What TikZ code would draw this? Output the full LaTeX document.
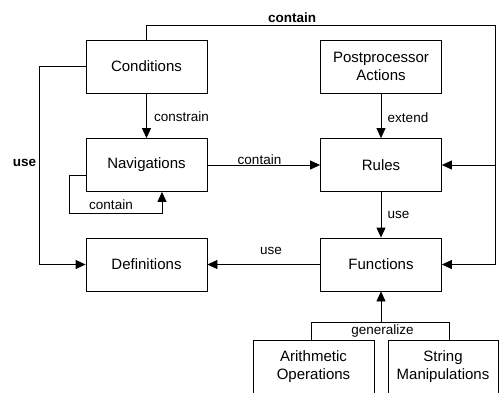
\documentclass[tikz,border=0pt]{standalone}
\usepackage{fontspec}
\setmainfont{Liberation Sans}
\usetikzlibrary{arrows.meta}
\begin{document}
\begin{tikzpicture}[x=1pt, y=-1pt, line width=0.8pt,
  box/.style={draw, minimum width=121pt, minimum height=53pt, align=center,
    inner sep=0pt, font=\fontsize{15}{18}\selectfont},
  lbl/.style={inner sep=1pt, font=\fontsize{13.5}{16}\selectfont},
  blbl/.style={inner sep=1pt, font=\fontsize{13.5}{16}\selectfont\bfseries},
  arr/.style={-{Triangle[length=10pt,width=9pt]}}]

  \useasboundingbox (0,0) rectangle (500,392);

  % boxes
  \node[box] (cond) at (146.5,66.5) {Conditions};
  \node[box] (post) at (381,66.5) {Postprocessor\\Actions};
  \node[box] (nav) at (146.5,165) {Navigations};
  \node[box] (rules) at (381,165) {Rules};
  \node[box] (defs) at (146.5,264.5) {Definitions};
  \node[box] (funcs) at (381,264.5) {Functions};
  \node[box, minimum height=54pt] (arith) at (313.5,367) {Arithmetic\\Operations};
  \node[box, minimum width=110pt, minimum height=54pt] (strman) at (443,367) {String\\Manipulations};

  % contain (top, to the right side)
  \coordinate (ctop) at (495,25);
  \draw[arr] (cond.north) |- (ctop) |- (funcs.east);
  \draw[arr] (ctop |- rules.east) -- (rules.east);
  \node[blbl] at (292,17.5) {contain};

  % use (left side)
  \coordinate (luse) at (39,66.5);
  \draw[arr] (cond.west) -- (luse) |- (defs.west);
  \node[blbl] at (24.5,162.5) {use};

  \draw[arr] (cond) -- (nav);
  \node[lbl] at (181.5,117) {constrain};

  % self loop
  \coordinate (loop) at (69,213);
  \draw[arr] ([yshift=-10pt]nav.west) -| (loop) -| ([xshift=15.5pt]nav.south);
  \node[lbl] at (111,205) {contain};

  \draw[arr] (nav) -- (rules);
  \node[lbl] at (259.5,160) {contain};

  \draw[arr] (post) -- (rules);
  \node[lbl] at (408,118) {extend};

  \draw[arr] (rules) -- (funcs);
  \node[lbl] at (398.5,215) {use};

  \draw[arr] (funcs) -- (defs);
  \node[lbl] at (271,251) {use};

  % generalize
  \coordinate (genl) at (311,322);
  \coordinate (genr) at (449,322);
  \draw (arith.north -| genl) -- (genl) -- (genr) -- (strman.north -| genr);
  \draw[arr] (funcs.south |- genl) -- (funcs.south);
  \node[lbl] at (382.5,330.5) {generalize};

\end{tikzpicture}
\end{document}
